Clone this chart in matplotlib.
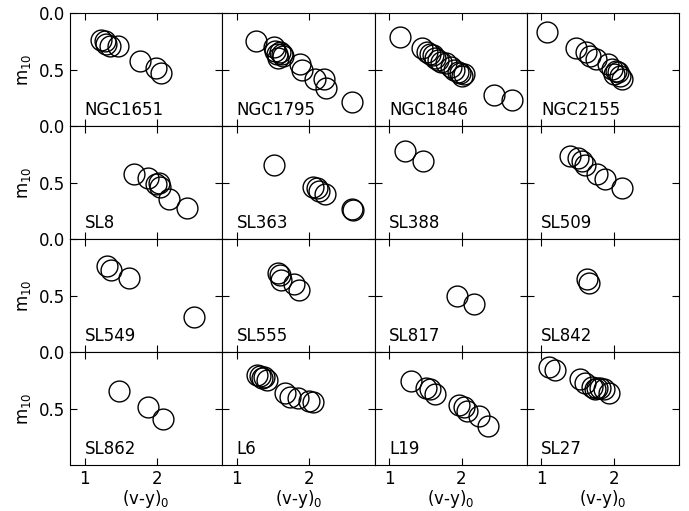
import numpy as np
import matplotlib
matplotlib.use('Agg')
import matplotlib.pyplot as plt

# cluster names, in panel order (row by row)
names = ['NGC1651', 'NGC1795', 'NGC1846', 'NGC2155',
         'SL8', 'SL363', 'SL388', 'SL509',
         'SL549', 'SL555', 'SL817', 'SL842',
         'SL862', 'L6', 'L19', 'SL27']

# (v-y)_0 colours for each cluster
vy = [
    [1.23, 1.28, 1.30, 1.35, 1.46, 1.77, 1.99, 2.06],
    [1.27, 1.51, 1.53, 1.55, 1.57, 1.59, 1.62, 1.64, 1.87, 1.90, 2.08, 2.21, 2.23, 2.59],
    [1.15, 1.45, 1.52, 1.56, 1.60, 1.63, 1.68, 1.72, 1.78, 1.85, 1.90, 1.95, 1.98, 2.01, 2.03, 2.45, 2.70],
    [1.08, 1.48, 1.62, 1.67, 1.75, 1.92, 1.98, 2.03, 2.06, 2.01, 2.09, 2.12],
    [1.68, 1.88, 1.98, 2.03, 2.04, 2.16, 2.41],
    [1.51, 2.05, 2.10, 2.13, 2.22, 2.59, 2.60],
    [1.215, 1.47],
    [1.40, 1.51, 1.56, 1.61, 1.77, 1.88, 2.12],
    [1.31, 1.36, 1.62, 2.51],
    [1.57, 1.59, 1.61, 1.79, 1.86],
    [1.94, 2.17],
    [1.63, 1.66],
    [1.475, 1.87, 2.08],
    [1.28, 1.32, 1.35, 1.38, 1.42, 1.66, 1.73, 1.85, 1.99, 2.05],
    [1.31, 1.51, 1.57, 1.63, 1.96, 2.03, 2.07, 2.24, 2.36],
    [1.11, 1.19, 1.54, 1.60, 1.70, 1.74, 1.77, 1.81, 1.86, 1.93],
]

# m_10 index for each cluster
m10 = [
    [0.235, 0.24, 0.27, 0.285, 0.29, 0.42, 0.48, 0.53],
    [0.24, 0.30, 0.33, 0.36, 0.39, 0.34, 0.36, 0.38, 0.45, 0.50, 0.58, 0.58, 0.66, 0.78],
    [0.21, 0.31, 0.34, 0.36, 0.37, 0.39, 0.41, 0.43, 0.44, 0.47, 0.50, 0.52, 0.53, 0.55, 0.54, 0.72, 0.77],
    [0.165, 0.31, 0.345, 0.38, 0.40, 0.45, 0.49, 0.51, 0.52, 0.54, 0.55, 0.58],
    [0.42, 0.46, 0.51, 0.50, 0.54, 0.64, 0.72],
    [0.34, 0.54, 0.55, 0.57, 0.60, 0.73, 0.74],
    [0.22, 0.31],
    [0.265, 0.28, 0.31, 0.34, 0.42, 0.47, 0.545],
    [0.24, 0.27, 0.34, 0.69],
    [0.30, 0.32, 0.36, 0.40, 0.45],
    [0.50, 0.57],
    [0.35, 0.39],
    [0.34, 0.485, 0.59],
    [0.20, 0.21, 0.23, 0.22, 0.25, 0.36, 0.40, 0.41, 0.43, 0.44],
    [0.26, 0.32, 0.33, 0.37, 0.47, 0.49, 0.52, 0.57, 0.65],
    [0.13, 0.16, 0.235, 0.27, 0.31, 0.33, 0.32, 0.32, 0.33, 0.36],
]

plt.rcParams['font.size'] = 12

fig, axes = plt.subplots(4, 4, figsize=(6.89, 5.11), dpi=100, sharex=True, sharey=True)
fig.subplots_adjust(left=0.1016, right=0.9855, top=0.9736, bottom=0.090, wspace=0, hspace=0)

for i, ax in enumerate(axes.flat):
    ax.plot(vy[i], m10[i], 'o', mfc='none', mec='black', ms=15, mew=1.0)
    ax.text(1.0, 0.9, names[i], fontsize=12)
    ax.set_xlim(0.8, 2.9)
    ax.set_ylim(1.0, 0.0)
    ax.set_xticks([1, 2])
    ax.set_yticks([0.0, 0.5])
    ax.tick_params(direction='in', top=True, right=True, labelsize=12, length=5)

for ax in axes[:, 0]:
    ax.set_ylabel('m$_{10}$')
for ax in axes[-1, :]:
    ax.set_xlabel('(v-y)$_0$', labelpad=0)

fig.savefig('out.png', dpi=100)
